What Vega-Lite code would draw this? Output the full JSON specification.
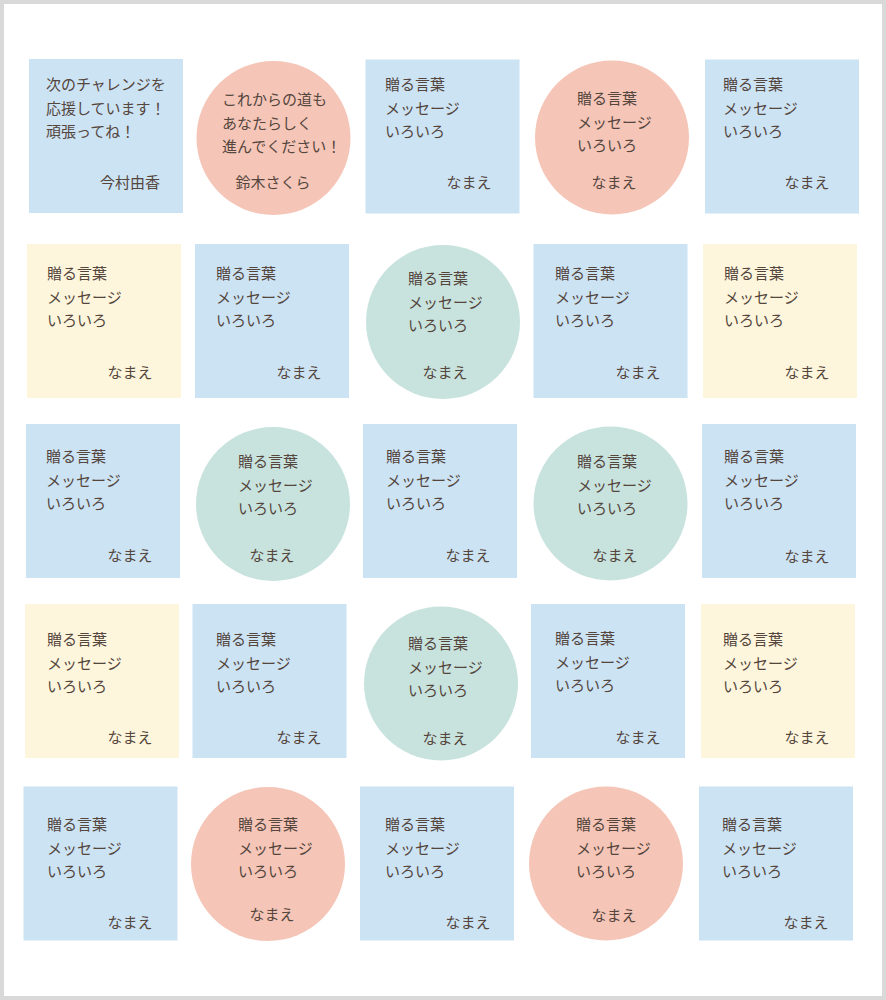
{
  "$schema": "https://vega.github.io/schema/vega-lite/v6.json",
  "width": 886,
  "height": 1000,
  "autosize": {"type": "fit", "contains": "padding"},
  "padding": 4,
  "background": "#d9d9d9",
  "config": {"view": {"fill": "#ffffff", "stroke": null}},
  "data": {
    "values": [
      {"cx": 106, "cy": 136, "shape": "square", "color": "blue", "tx": 46, "ty": 85, "msg": "次のチャレンジを\n応援しています！\n頑張ってね！", "nx": 130, "ny": 183, "name": "今村由香"},
      {"cx": 273.5, "cy": 138, "shape": "circle", "color": "pink", "tx": 222, "ty": 100, "msg": "これからの道も\nあなたらしく\n進んでください！", "nx": 273, "ny": 183, "name": "鈴木さくら"},
      {"cx": 442.5, "cy": 136.5, "shape": "square", "color": "blue", "tx": 385, "ty": 85, "msg": "贈る言葉\nメッセージ\nいろいろ", "nx": 469, "ny": 183, "name": "なまえ"},
      {"cx": 612, "cy": 137.5, "shape": "circle", "color": "pink", "tx": 577, "ty": 99, "msg": "贈る言葉\nメッセージ\nいろいろ", "nx": 614, "ny": 183, "name": "なまえ"},
      {"cx": 782, "cy": 136.5, "shape": "square", "color": "blue", "tx": 723, "ty": 85, "msg": "贈る言葉\nメッセージ\nいろいろ", "nx": 807, "ny": 183, "name": "なまえ"},
      {"cx": 104, "cy": 321, "shape": "square", "color": "yellow", "tx": 47, "ty": 274, "msg": "贈る言葉\nメッセージ\nいろいろ", "nx": 130, "ny": 373, "name": "なまえ"},
      {"cx": 272, "cy": 321, "shape": "square", "color": "blue", "tx": 216, "ty": 274, "msg": "贈る言葉\nメッセージ\nいろいろ", "nx": 299, "ny": 373, "name": "なまえ"},
      {"cx": 443, "cy": 322, "shape": "circle", "color": "green", "tx": 408, "ty": 279, "msg": "贈る言葉\nメッセージ\nいろいろ", "nx": 445, "ny": 373, "name": "なまえ"},
      {"cx": 610.5, "cy": 321, "shape": "square", "color": "blue", "tx": 555, "ty": 274, "msg": "贈る言葉\nメッセージ\nいろいろ", "nx": 638, "ny": 373, "name": "なまえ"},
      {"cx": 780, "cy": 321, "shape": "square", "color": "yellow", "tx": 724, "ty": 274, "msg": "贈る言葉\nメッセージ\nいろいろ", "nx": 807, "ny": 373, "name": "なまえ"},
      {"cx": 103, "cy": 501, "shape": "square", "color": "blue", "tx": 46, "ty": 457, "msg": "贈る言葉\nメッセージ\nいろいろ", "nx": 130, "ny": 556, "name": "なまえ"},
      {"cx": 273, "cy": 504, "shape": "circle", "color": "green", "tx": 238, "ty": 462, "msg": "贈る言葉\nメッセージ\nいろいろ", "nx": 272, "ny": 556, "name": "なまえ"},
      {"cx": 440, "cy": 501, "shape": "square", "color": "blue", "tx": 386, "ty": 457, "msg": "贈る言葉\nメッセージ\nいろいろ", "nx": 468, "ny": 556, "name": "なまえ"},
      {"cx": 610.5, "cy": 503.5, "shape": "circle", "color": "green", "tx": 577, "ty": 462, "msg": "贈る言葉\nメッセージ\nいろいろ", "nx": 615, "ny": 556, "name": "なまえ"},
      {"cx": 779, "cy": 501, "shape": "square", "color": "blue", "tx": 724, "ty": 457, "msg": "贈る言葉\nメッセージ\nいろいろ", "nx": 807, "ny": 557, "name": "なまえ"},
      {"cx": 102, "cy": 681, "shape": "square", "color": "yellow", "tx": 47, "ty": 640, "msg": "贈る言葉\nメッセージ\nいろいろ", "nx": 130, "ny": 738, "name": "なまえ"},
      {"cx": 269.5, "cy": 681, "shape": "square", "color": "blue", "tx": 216, "ty": 640, "msg": "贈る言葉\nメッセージ\nいろいろ", "nx": 299, "ny": 738, "name": "なまえ"},
      {"cx": 441, "cy": 683.5, "shape": "circle", "color": "green", "tx": 408, "ty": 644, "msg": "贈る言葉\nメッセージ\nいろいろ", "nx": 445, "ny": 739, "name": "なまえ"},
      {"cx": 608, "cy": 681, "shape": "square", "color": "blue", "tx": 555, "ty": 639, "msg": "贈る言葉\nメッセージ\nいろいろ", "nx": 638, "ny": 738, "name": "なまえ"},
      {"cx": 778, "cy": 681, "shape": "square", "color": "yellow", "tx": 723, "ty": 640, "msg": "贈る言葉\nメッセージ\nいろいろ", "nx": 807, "ny": 738, "name": "なまえ"},
      {"cx": 100.5, "cy": 863.5, "shape": "square", "color": "blue", "tx": 47, "ty": 825, "msg": "贈る言葉\nメッセージ\nいろいろ", "nx": 130, "ny": 923, "name": "なまえ"},
      {"cx": 268, "cy": 864, "shape": "circle", "color": "pink", "tx": 238, "ty": 825, "msg": "贈る言葉\nメッセージ\nいろいろ", "nx": 272, "ny": 915, "name": "なまえ"},
      {"cx": 437, "cy": 863.5, "shape": "square", "color": "blue", "tx": 385, "ty": 825, "msg": "贈る言葉\nメッセージ\nいろいろ", "nx": 468, "ny": 923, "name": "なまえ"},
      {"cx": 606, "cy": 863.5, "shape": "circle", "color": "pink", "tx": 576, "ty": 825, "msg": "贈る言葉\nメッセージ\nいろいろ", "nx": 614, "ny": 916, "name": "なまえ"},
      {"cx": 776, "cy": 863.5, "shape": "square", "color": "blue", "tx": 722, "ty": 825, "msg": "贈る言葉\nメッセージ\nいろいろ", "nx": 806, "ny": 923, "name": "なまえ"}
    ]
  },
  "layer": [
    {
      "mark": {"type": "point", "filled": true, "opacity": 1, "size": 23716, "strokeWidth": 0},
      "encoding": {
        "x": {"field": "cx", "type": "quantitative", "scale": {"domain": [4, 882], "nice": false, "zero": false}, "axis": null},
        "y": {"field": "cy", "type": "quantitative", "scale": {"domain": [4, 996], "nice": false, "zero": false, "reverse": true}, "axis": null},
        "shape": {"field": "shape", "type": "nominal", "scale": {"domain": ["square", "circle"], "range": ["square", "circle"]}, "legend": null},
        "color": {"field": "color", "type": "nominal", "scale": {"domain": ["blue", "pink", "green", "yellow"], "range": ["#cce3f4", "#f5c5b7", "#c8e3dd", "#fef6dc"]}, "legend": null}
      }
    },
    {
      "mark": {"type": "text", "align": "left", "baseline": "middle", "lineBreak": "\n", "lineHeight": 23.5, "font": "Noto Sans CJK JP", "fontSize": 15, "color": "#54463d"},
      "encoding": {
        "x": {"field": "tx", "type": "quantitative"},
        "y": {"field": "ty", "type": "quantitative"},
        "text": {"field": "msg", "type": "nominal"}
      }
    },
    {
      "mark": {"type": "text", "align": "center", "baseline": "middle", "font": "Noto Sans CJK JP", "fontSize": 15, "color": "#54463d"},
      "encoding": {
        "x": {"field": "nx", "type": "quantitative"},
        "y": {"field": "ny", "type": "quantitative"},
        "text": {"field": "name", "type": "nominal"}
      }
    }
  ]
}
